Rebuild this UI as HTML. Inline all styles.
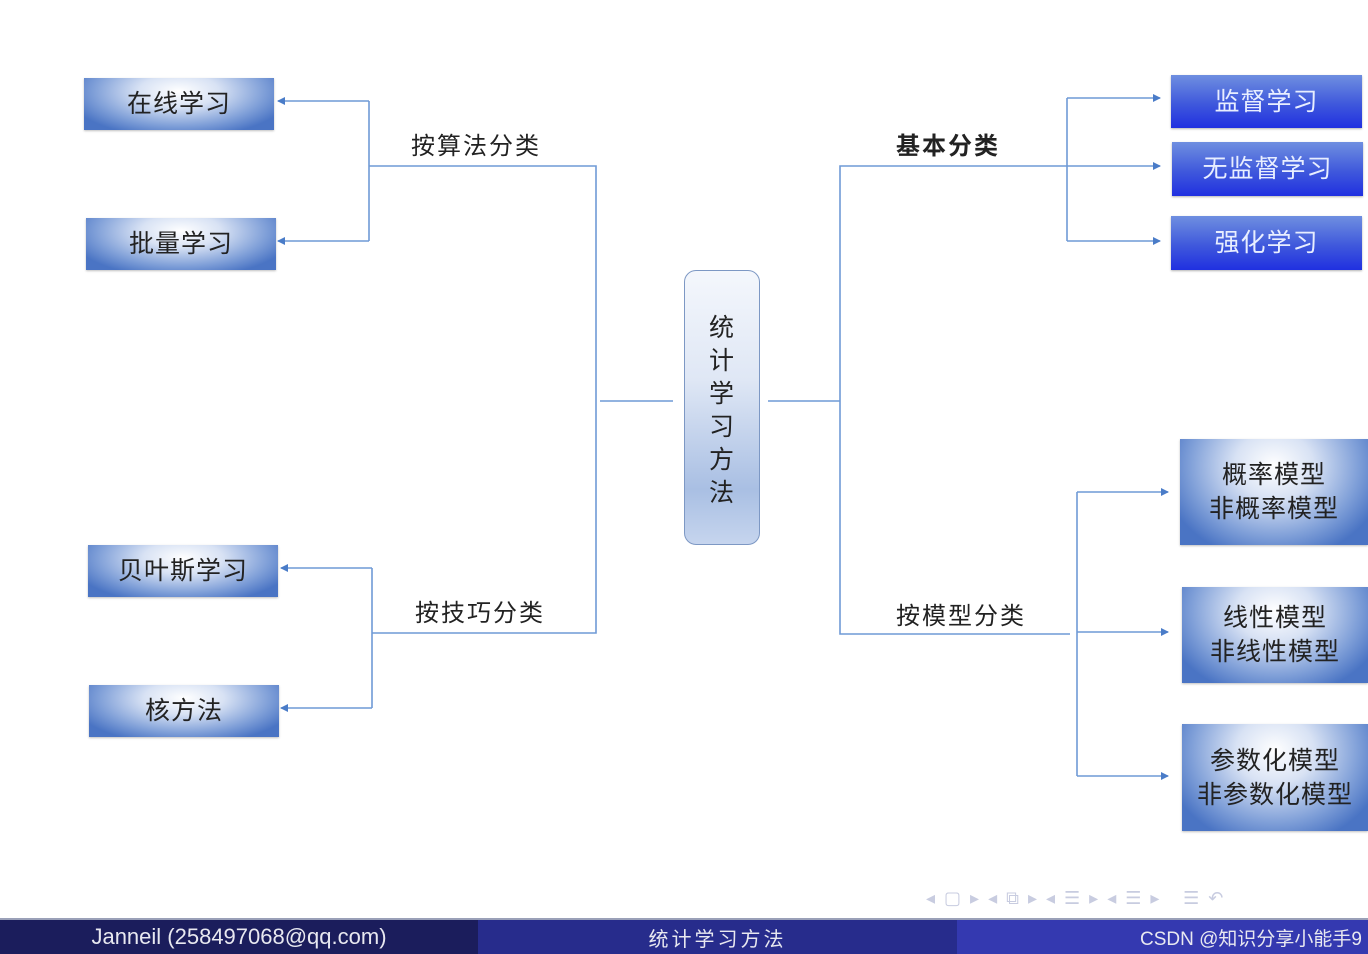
<!DOCTYPE html>
<html><head><meta charset="utf-8"><style>
body{margin:0;width:1368px;height:954px;background:#fff;position:relative;overflow:hidden;font-family:"Liberation Sans","Noto Sans CJK SC",sans-serif;}
.b{position:absolute;display:flex;align-items:center;justify-content:center;text-align:center;color:#222;font-size:25px;line-height:34px;box-sizing:border-box;letter-spacing:1px;}
.l{background:radial-gradient(ellipse 60% 90% at 50% 25%,#ffffff 0%,#d8e2f4 35%,#7f9fd8 75%,#4a74c4 100%);box-shadow:0 1px 2px rgba(0,0,0,.25);}
.t{background:linear-gradient(#6f8fe0 0%,#3f58dc 55%,#2030e0 100%);color:#e8eeff;box-shadow:0 1px 2px rgba(0,0,0,.3);}
.lab{position:absolute;font-size:24px;color:#222;white-space:nowrap;letter-spacing:2px;}
.ft{position:absolute;top:920px;height:34px;color:#e8e8f0;font-size:22px;display:flex;align-items:center;}
</style></head><body>
<svg width="1368" height="954" style="position:absolute;left:0;top:0" fill="none">
<defs><marker id="a" markerWidth="8" markerHeight="8" refX="7" refY="4" orient="auto" markerUnits="userSpaceOnUse"><path d="M0,0 L8,4 L0,8z" fill="#4a7cc8"/></marker></defs>
<g stroke="#6f9ad6" stroke-width="1.6">
<path d="M369,101 V241"/><path d="M369,101 H278" marker-end="url(#a)"/><path d="M369,241 H278" marker-end="url(#a)"/>
<path d="M369,166 H596 V633 H372"/>
<path d="M372,568 V708"/><path d="M372,568 H281" marker-end="url(#a)"/><path d="M372,708 H281" marker-end="url(#a)"/>
<path d="M600,401 H673"/><path d="M768,401 H840"/>
<path d="M1067,166 H840 V634 H1070"/>
<path d="M1067,98 V241"/><path d="M1067,98 H1160" marker-end="url(#a)"/><path d="M1067,166 H1160" marker-end="url(#a)"/><path d="M1067,241 H1160" marker-end="url(#a)"/>
<path d="M1077,492 V776"/><path d="M1077,492 H1168" marker-end="url(#a)"/><path d="M1077,632 H1168" marker-end="url(#a)"/><path d="M1077,776 H1168" marker-end="url(#a)"/>
</g>
<g fill="#c8cce0" font-size="18" font-family="DejaVu Sans">
<text x="926" y="904" letter-spacing="9">◂▢▸◂⧉▸◂☰▸◂☰▸ ☰↶</text>
</g>
</svg>
<div class="b l" style="left:84px;top:78px;width:190px;height:52px">在线学习</div>
<div class="b l" style="left:86px;top:218px;width:190px;height:52px">批量学习</div>
<div class="b l" style="left:88px;top:545px;width:190px;height:52px">贝叶斯学习</div>
<div class="b l" style="left:89px;top:685px;width:190px;height:52px">核方法</div>
<div class="b t" style="left:1171px;top:75px;width:191px;height:53px">监督学习</div>
<div class="b t" style="left:1172px;top:142px;width:191px;height:54px">无监督学习</div>
<div class="b t" style="left:1171px;top:216px;width:191px;height:54px">强化学习</div>
<div class="b l" style="left:1180px;top:439px;width:188px;height:106px">概率模型<br>非概率模型</div>
<div class="b l" style="left:1182px;top:587px;width:186px;height:96px">线性模型<br>非线性模型</div>
<div class="b l" style="left:1182px;top:724px;width:186px;height:107px">参数化模型<br>非参数化模型</div>
<div class="b" style="left:684px;top:270px;width:76px;height:275px;border:1.5px solid #7d98c4;border-radius:12px;background:linear-gradient(#f4f7fc 0%,#dfe7f5 40%,#a9bfe3 80%,#c6d5ee 100%);font-size:25px;line-height:33px;padding-top:6px;">统<br>计<br>学<br>习<br>方<br>法</div>
<div class="lab" style="left:411px;top:126px">按算法分类</div>
<div class="lab" style="left:896px;top:126px;font-weight:bold">基本分类</div>
<div class="lab" style="left:415px;top:593px">按技巧分类</div>
<div class="lab" style="left:896px;top:596px">按模型分类</div>
<div style="position:absolute;left:0;top:918px;width:1368px;height:2px;background:#9aa0b8"></div>
<div class="ft" style="left:0;width:478px;background:#1b1d5c;justify-content:center">Janneil (258497068@qq.com)</div>
<div class="ft" style="left:478px;width:479px;background:#272c8c;justify-content:center;font-size:20px;letter-spacing:3px">统计学习方法</div>
<div class="ft" style="left:957px;width:411px;background:#3439b0;justify-content:flex-end;padding-right:6px;box-sizing:border-box;font-size:19px">CSDN @知识分享小能手9</div>
</body></html>
